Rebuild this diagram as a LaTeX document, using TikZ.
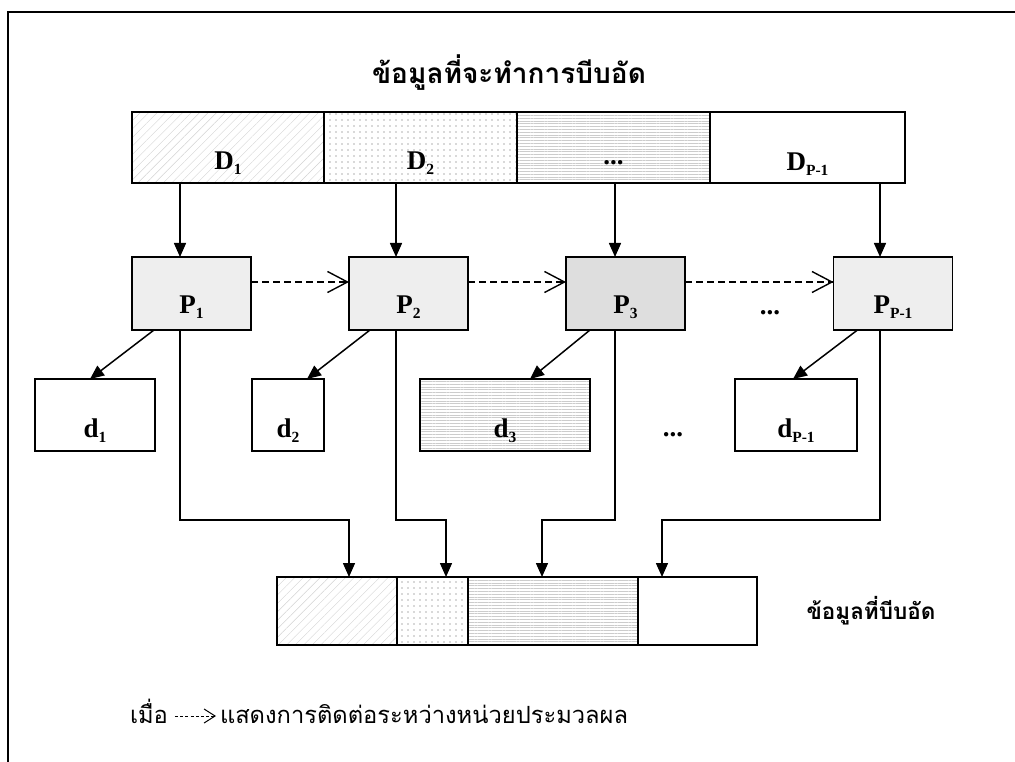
\documentclass[tikz,border=0pt]{standalone}
\usepackage{fontspec}
\setmainfont{Liberation Serif}
\newfontfamily\thaifont[Script=Thai]{Loma}
\usetikzlibrary{arrows.meta,patterns.meta,calc,decorations.markings}

% lowered subscript used in the block labels
\newcommand\lowsub[1]{\raisebox{-5pt}{\fontsize{15.5}{16}\selectfont #1}}

\begin{document}
\begin{tikzpicture}[x=1pt,y=-1pt,
  every node/.style={inner sep=0pt,outer sep=0pt},
  blk/.style={draw,line width=1.5pt},
  cell/.style={blk,minimum height=71},
  proc/.style={blk,minimum width=119,minimum height=73,fill=gray!13},
  part/.style={blk,minimum height=72,fill=white},
  outblk/.style={blk,minimum height=68},
  hatch/.style={pattern={Lines[angle=45,distance=6pt,line width=0.4pt]},pattern color=gray!35},
  dotty/.style={pattern={Dots[distance=6pt,radius=0.8pt]},pattern color=gray!60},
  rules/.style={pattern={Lines[angle=0,distance=2.8pt,line width=0.35pt]},pattern color=gray!40},
  lbl/.style={font=\fontsize{27}{30}\selectfont\bfseries,anchor=base},
  thaihead/.style={font=\thaifont\bfseries\fontsize{28}{32}\selectfont,anchor=base},
  thaiout/.style={font=\thaifont\bfseries\fontsize{22.5}{27}\selectfont,anchor=base},
  thaitext/.style={font=\thaifont\fontsize{23.7}{28}\selectfont,anchor=base west},
  arr/.style={line width=1.5pt,-{Triangle[length=14pt,width=12pt]}},
  % dashed line with a solid open barb at its end
  barbed/.style n args={3}{decoration={markings,mark=at position 1 with
      {\pgfsetdash{}{0pt}\arrow[line width=#3]{Straight Barb[length=#1,width=#2]}}},
    postaction={decorate}},
  link/.style={line width=1.3pt,dash pattern=on 7pt off 4pt,barbed={20pt}{21pt}{1.4pt}},
  leglink/.style={line width=0.9pt,dash pattern=on 3pt off 2.2pt,barbed={11pt}{14pt}{1pt}}
]
\useasboundingbox (0,0) rectangle (1015,762);

% page frame (top and left rules)
\draw[line width=2pt] (8,762) -- (8,12) -- (1015,12);

% title
\node[thaihead] (title) at (509,84) {ข้อมูลที่จะทำการบีบอัด};

% input data split into blocks
\node[cell,hatch,minimum width=192] (D1) at (228,147.5) {};
\node[cell,dotty,minimum width=193] (D2) at (420.5,147.5) {};
\node[cell,rules,minimum width=193] (D3) at (613.5,147.5) {};
\node[cell,minimum width=195] (D4) at (807.5,147.5) {};
\node[lbl] (tD1) at (228,170) {D\lowsub{1}};
\node[lbl] (tD2) at (420.5,170) {D\lowsub{2}};
\node[lbl] (tD3) at (613.5,165) {...};
\node[lbl] (tD4) at (807.5,171) {D\lowsub{P-1}};

% processors
\node[proc] (P1) at (191.5,293.5) {};
\node[proc] (P2) at (408.5,293.5) {};
\node[proc,fill=gray!26] (P3) at (625.5,293.5) {};
\node[proc] (P4) at (893,293.5) {};
\node[lbl] (tP1) at (191.5,313) {P\lowsub{1}};
\node[lbl] (tP2) at (408.5,313) {P\lowsub{2}};
\node[lbl] (tP3) at (625.5,313) {P\lowsub{3}};
\node[lbl] (tP4) at (893,313) {P\lowsub{P-1}};
\node[lbl] (pdots) at (770,314) {...};

% compressed parts
\node[part,minimum width=120] (d1) at (95,415) {};
\node[part,minimum width=72] (d2) at (288,415) {};
\node[part,rules,minimum width=170] (d3) at (505,415) {};
\node[part,minimum width=122] (d4) at (796,415) {};
\node[lbl] (td1) at (95,437) {d\lowsub{1}};
\node[lbl] (td2) at (288,437) {d\lowsub{2}};
\node[lbl] (td3) at (505,437) {d\lowsub{3}};
\node[lbl] (td4) at (796,437) {d\lowsub{P-1}};
\node[lbl] (ddots) at (673,436) {...};

% compressed output
\node[outblk,hatch,minimum width=120] (B1) at (337,611) {};
\node[outblk,dotty,minimum width=71] (B2) at (432.5,611) {};
\node[outblk,rules,minimum width=170] (B3) at (553,611) {};
\node[outblk,minimum width=119] (B4) at (697.5,611) {};
\node[thaiout] (outlbl) at (871,619) {ข้อมูลที่บีบอัด};

% legend
\node[thaitext] (when) at (130,723) {เมื่อ};
\node[thaitext] (legend) at (220,723) {แสดงการติดต่อระหว่างหน่วยประมวลผล};
\draw[leglink] ($(when.base east)+(7,-7)$) -- ($(legend.base west)+(-4,-7)$);

% columns of the vertical connectors
\coordinate (k1) at (180,0);
\coordinate (k2) at (396,0);
\coordinate (k3) at (615,0);
\coordinate (k4) at (880,0);
\coordinate (t1) at (349,520);
\coordinate (t2) at (446,520);
\coordinate (t3) at (542,520);
\coordinate (t4) at (662,520);

% data blocks to processors
\draw[arr] (D1.south -| k1) -- (P1.north -| k1);
\draw[arr] (D2.south -| k2) -- (P2.north -| k2);
\draw[arr] (D3.south -| k3) -- (P3.north -| k3);
\draw[arr] (D4.south -| k4) -- (P4.north -| k4);

% communication between processors
\draw[link] ($(P1.east)+(0,-11.5)$) -- ($(P2.west)+(0,-11.5)$);
\draw[link] ($(P2.east)+(0,-11.5)$) -- ($(P3.west)+(0,-11.5)$);
\draw[link] ($(P3.east)+(0,-11.5)$) -- ($(P4.west)+(0,-11.5)$);

% processors to compressed parts
\draw[arr] ($(P1.south west)+(22,0)$) -- ($(d1.north west)+(55,0)$);
\draw[arr] ($(P2.south west)+(21,0)$) -- ($(d2.north west)+(55,0)$);
\draw[arr] ($(P3.south west)+(24,0)$) -- ($(d3.north west)+(110,0)$);
\draw[arr] ($(P4.south west)+(24,0)$) -- ($(d4.north west)+(58,0)$);

% processors to compressed output
\draw[arr] (P1.south -| k1) |- (t1) -- (B1.north -| t1);
\draw[arr] (P2.south -| k2) |- (t2) -- (B2.north -| t2);
\draw[arr] (P3.south -| k3) |- (t3) -- (B3.north -| t3);
\draw[arr] (P4.south -| k4) |- (t4) -- (B4.north -| t4);
\end{tikzpicture}
\end{document}
